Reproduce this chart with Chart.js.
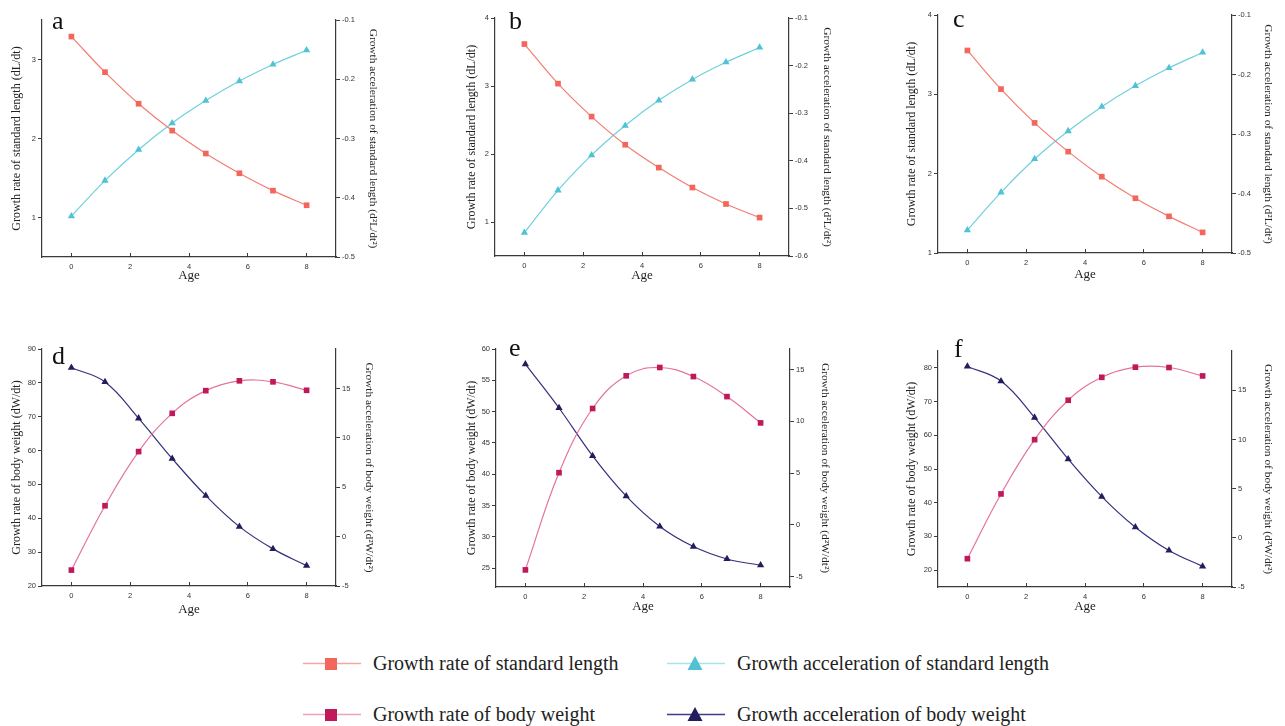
<!DOCTYPE html>
<html>
<head>
<meta charset="utf-8">
<script src="https://cdn.jsdelivr.net/npm/chart.js@4.4.1/dist/chart.umd.min.js"></script>
<style>
body{margin:0;background:#fff;}
#wrap{position:relative;width:1285px;height:726px;overflow:hidden;background:#fff;}
.panel{position:absolute;}
.tag{position:absolute;font-family:"Liberation Serif",serif;font-size:26px;line-height:1;color:#111;}
.leg{position:absolute;height:24px;display:flex;align-items:center;font-family:"Liberation Serif",serif;font-size:20px;color:#222;white-space:nowrap;}
.leg svg{margin-right:12px;}
</style>
</head>
<body>
<div id="wrap"></div>
<script>
// ages on the x axis (shared by all six panels)
const ages = [0, 1.143, 2.286, 3.429, 4.571, 5.714, 6.857, 8];
const xTicks = [0, 2, 4, 6, 8];

// standard length: growth rate (left axis) and acceleration (right axis)
const rateA  = [3.29, 2.84, 2.44, 2.10, 1.81, 1.56, 1.34, 1.155];
const accelA = [-0.431, -0.371, -0.319, -0.274, -0.236, -0.203, -0.175, -0.151];
const rateB  = [3.617, 3.035, 2.55, 2.136, 1.80, 1.507, 1.265, 1.065];
const accelB = [-0.551, -0.462, -0.388, -0.326, -0.273, -0.229, -0.193, -0.162];
const rateC  = [3.553, 3.066, 2.64, 2.278, 1.962, 1.69, 1.462, 1.26];
const accelC = [-0.4615, -0.398, -0.342, -0.295, -0.254, -0.219, -0.189, -0.163];

// body weight: growth rate (left axis) and acceleration (right axis)
const rateD  = [24.7, 43.7, 59.7, 71.0, 77.7, 80.6, 80.3, 77.8];
const accelD = [17.1, 15.66, 11.98, 7.9, 4.15, 1.01, -1.24, -2.94];
const rateE  = [24.73, 40.25, 50.5, 55.72, 57.05, 55.6, 52.4, 48.2];
const accelE = [15.54, 11.3, 6.67, 2.78, -0.15, -2.09, -3.29, -3.9];
const rateF  = [23.4, 42.6, 58.7, 70.4, 77.2, 80.2, 80.1, 77.6];
const accelF = [17.43, 15.94, 12.23, 8.0, 4.19, 1.08, -1.29, -2.9];

// tick labels
const leftTicksA = [1, 2, 3];
const leftTicksBC = [1, 2, 3, 4];
const rightTicksAC = [-0.5, -0.4, -0.3, -0.2, -0.1];
const rightTicksB = [-0.6, -0.5, -0.4, -0.3, -0.2, -0.1];
const leftTicksD = [20, 30, 40, 50, 60, 70, 80, 90];
const leftTicksE = [25, 30, 35, 40, 45, 50, 55, 60];
const leftTicksF = [20, 30, 40, 50, 60, 70, 80];
const rightTicksW = [-5, 0, 5, 10, 15];

const legendLabels = [
  'Growth rate of standard length', 'Growth acceleration of standard length',
  'Growth rate of body weight', 'Growth acceleration of body weight'
];

const serif = '"Liberation Serif", "Times New Roman", serif';
const sans = '"Liberation Sans", Arial, sans-serif';
const axisColor = '#3a3a3a';

const lenStyle = {
  rate: {line: '#f47d72', mark: '#f2665b', shape: 'rect'},
  acc:  {line: '#6fd0dc', mark: '#4fc3d3', shape: 'triangle'}
};
const wtStyle = {
  rate: {line: '#e4749a', mark: '#c0195b', shape: 'rect'},
  acc:  {line: '#34307e', mark: '#221e5c', shape: 'triangle'}
};

const lenL = 'Growth rate of standard length (dL/dt)';
const lenR = 'Growth acceleration of standard length (d\u00b2L/dt\u00b2)';
const wtL = 'Growth rate of body weight (dW/dt)';
const wtR = 'Growth acceleration of body weight (d\u00b2W/dt\u00b2)';

const panels = [
  {tag:'a', rate:rateA, acc:accelA, st:lenStyle, lMin:0.5, lMax:3.5, lT:leftTicksA, rMin:-0.5, rMax:-0.1, rT:rightTicksAC, tL:lenL, tR:lenR,
   box:{left:10, top:10, width:370, height:273, wL:32, wR:44, hX:26, pad:10}, tagPos:[52, 8]},
  {tag:'b', rate:rateB, acc:accelB, st:lenStyle, lMin:0.5, lMax:4, lT:leftTicksBC, rMin:-0.6, rMax:-0.1, rT:rightTicksB, tL:lenL, tR:lenR,
   box:{left:465, top:8, width:369, height:275, wL:30, wR:45, hX:27, pad:10}, tagPos:[509, 8]},
  {tag:'c', rate:rateC, acc:accelC, st:lenStyle, lMin:1, lMax:4, lT:leftTicksBC, rMin:-0.5, rMax:-0.1, rT:rightTicksAC, tL:lenL, tR:lenR,
   box:{left:905, top:5, width:370, height:277, wL:33, wR:43, hX:29, pad:10}, tagPos:[953, 6]},
  {tag:'d', rate:rateD, acc:accelD, st:wtStyle, lMin:20, lMax:90, lT:leftTicksD, rMin:-5, rMax:19, rT:rightTicksW, tL:wtL, tR:wtR,
   box:{left:10, top:339, width:366, height:278, wL:32, wR:40, hX:31, pad:10}, tagPos:[52, 343]},
  {tag:'e', rate:rateE, acc:accelE, st:wtStyle, lMin:22, lMax:60, lT:leftTicksE, rMin:-6, rMax:17, rT:rightTicksW, tL:wtL, tR:wtR,
   box:{left:465, top:339, width:367, height:275, wL:31, wR:42, hX:27, pad:10}, tagPos:[509, 335]},
  {tag:'f', rate:rateF, acc:accelF, st:wtStyle, lMin:15, lMax:85, lT:leftTicksF, rMin:-5, rMax:19, rT:rightTicksW, tL:wtL, tR:wtR,
   box:{left:905, top:341, width:370, height:273, wL:33, wR:43, hX:27, pad:10}, tagPos:[954, 336]}
];

const wrap = document.getElementById('wrap');

function axis(pos, min, max, ticks, title, fit) {
  const bottom = pos === 'bottom';
  return {
    type: 'linear', position: pos, min: min, max: max,
    afterBuildTicks: s => { s.ticks = ticks.map(v => ({value: v})); },
    afterFit: fit,
    // x ticks point into the plot, y ticks point outward
    grid: {drawOnChartArea: false, color: axisColor, tickLength: bottom ? -4 : 4, lineWidth: 1},
    border: {color: axisColor, width: 1.2},
    ticks: {font: {family: sans, size: 7.5}, color: '#333', padding: bottom ? 9 : 2,
            maxRotation: 0, autoSkip: false, callback: v => String(v)},
    title: {display: true, text: title, color: '#222', padding: 0,
            font: {family: serif, size: bottom ? 13 : (pos === 'left' ? 12 : 11.4)}}
  };
}

function series(vals, s, axisId) {
  return {
    data: ages.map((x, i) => ({x: x, y: vals[i]})),
    yAxisID: axisId,
    borderColor: s.line, borderWidth: 1.2, tension: 0.4,
    pointStyle: s.shape, pointRadius: s.shape === 'rect' ? 4 : 4.2,
    pointBackgroundColor: s.mark, pointBorderColor: s.mark, pointBorderWidth: 0
  };
}

panels.forEach(p => {
  const b = p.box;
  const div = document.createElement('div');
  div.className = 'panel';
  div.style.left = b.left + 'px'; div.style.top = b.top + 'px';
  div.style.width = b.width + 'px'; div.style.height = b.height + 'px';
  const cv = document.createElement('canvas');
  div.appendChild(cv);
  wrap.appendChild(div);

  new Chart(cv.getContext('2d'), {
    type: 'line',
    data: {datasets: [series(p.rate, p.st.rate, 'yL'), series(p.acc, p.st.acc, 'yR')]},
    options: {
      responsive: true, maintainAspectRatio: false, animation: false,
      layout: {padding: {top: b.pad, left: 0, right: 0, bottom: 0}},
      plugins: {legend: {display: false}, tooltip: {enabled: false}},
      scales: {
        x: axis('bottom', -1, 9, xTicks, 'Age', s => { s.height = b.hX; }),
        yL: axis('left', p.lMin, p.lMax, p.lT, p.tL, s => { s.width = b.wL; }),
        yR: axis('right', p.rMin, p.rMax, p.rT, p.tR, s => { s.width = b.wR; })
      }
    }
  });

  const t = document.createElement('div');
  t.className = 'tag';
  t.textContent = p.tag;
  t.style.left = p.tagPos[0] + 'px'; t.style.top = p.tagPos[1] + 'px';
  wrap.appendChild(t);
});

// legend
const legendItems = [
  {label: legendLabels[0], line: '#f6a79f', mark: '#f2665b', shape: 'rect', x: 303, y: 651},
  {label: legendLabels[1], line: '#a9e2ea', mark: '#4fc3d3', shape: 'triangle', x: 667, y: 651},
  {label: legendLabels[2], line: '#eaa3bb', mark: '#c0195b', shape: 'rect', x: 303, y: 702},
  {label: legendLabels[3], line: '#3f3a8c', mark: '#221e5c', shape: 'triangle', x: 667, y: 702}
];
legendItems.forEach(it => {
  const d = document.createElement('div');
  d.className = 'leg';
  d.style.left = it.x + 'px'; d.style.top = it.y + 'px';
  const glyph = it.shape === 'rect'
    ? '<rect x="22" y="7" width="12" height="12" fill="' + it.mark + '"/>'
    : '<polygon points="28,5 35.5,19 20.5,19" fill="' + it.mark + '"/>';
  d.innerHTML = '<svg width="58" height="24"><line x1="0" y1="12.5" x2="58" y2="12.5" stroke="' + it.line +
    '" stroke-width="1.3"/>' + glyph + '</svg><span>' + it.label + '</span>';
  wrap.appendChild(d);
});
</script>
</body>
</html>
